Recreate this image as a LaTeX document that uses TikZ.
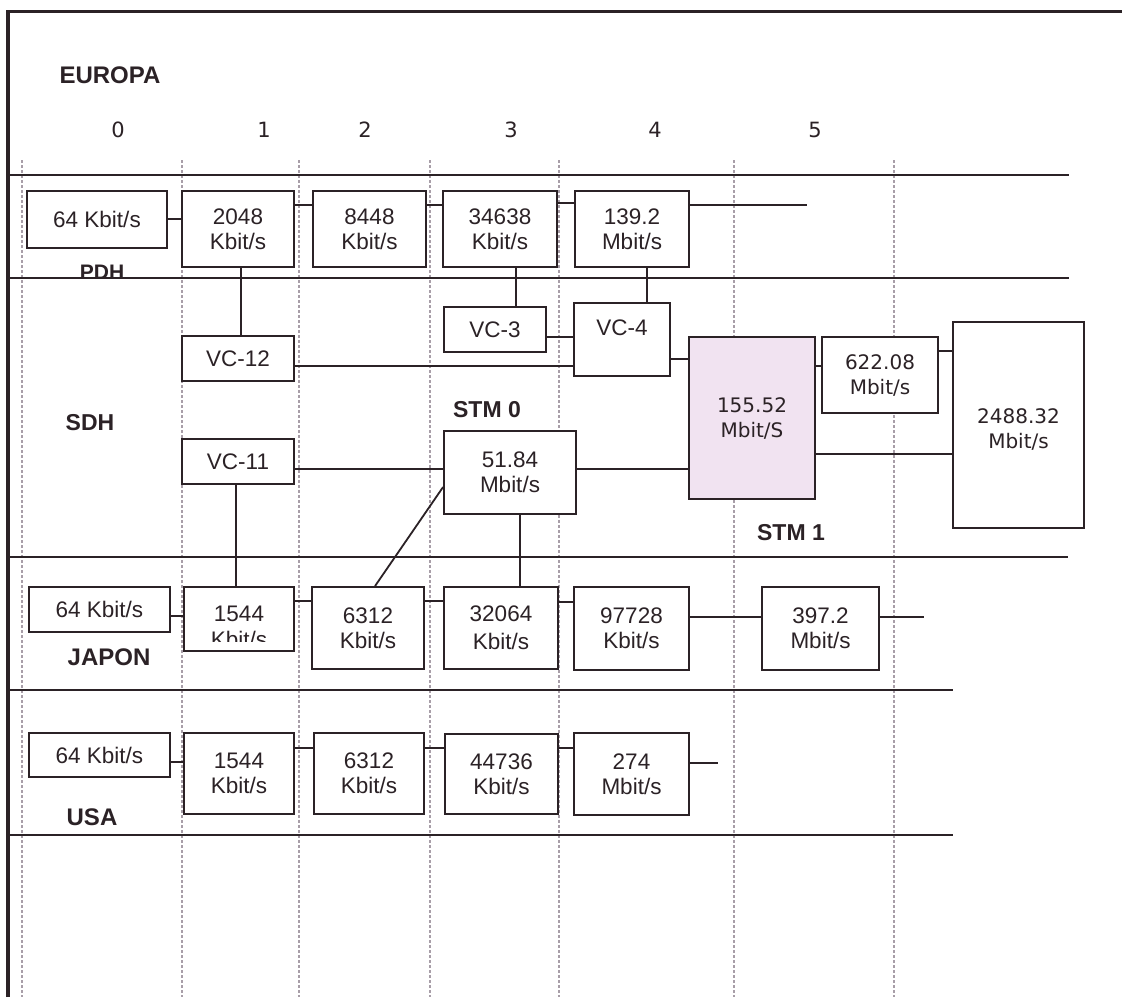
\documentclass[tikz,border=0pt]{standalone}
\usepackage{fontspec}
\setmainfont{Liberation Sans}
\newfontfamily\dvs{DejaVu Sans}
\definecolor{ink}{HTML}{2B2226}
\definecolor{gridc}{HTML}{A89EA8}
\definecolor{stmfill}{HTML}{F1E3F1}
\newcommand{\bx}[7][]{\node[box,#1,minimum width={#5-#3},minimum height={#6-#4}] (#2) at ({(#3+#5)/2},{(#4+#6)/2}) {#7};}
\tikzset{
 box/.style={draw=ink, fill=white, line width=1.8pt, inner sep=0pt, align=center, font=\fontsize{22.5}{25}\selectfont, text=ink},
 dvbox/.style={font=\dvs\fontsize{20}{25}\selectfont},
 ln/.style={draw=ink, line width=1.8pt},
 hl/.style={draw=ink, line width=2.4pt},
 frame/.style={draw=ink, line width=3.2pt},
 gridl/.style={draw=gridc, line width=1.1pt, dash pattern=on 3pt off 2pt},
 lbl/.style={font=\bfseries\fontsize{23}{28}\selectfont, text=ink, anchor=base, inner sep=0pt},
 num/.style={font=\dvs\fontsize{21}{25}\selectfont, text=ink, anchor=base, inner sep=0pt},
}
\begin{document}
\begin{tikzpicture}[x=1pt,y=-1pt]
\fill[white] (0,0) rectangle (1122,997);
\useasboundingbox (0,0) rectangle (1122,997);
% grid
\foreach \gx in {22,182,299,430,559,734,894}{\draw[gridl] (\gx,160) -- (\gx,997);}
% frame
\draw[frame] (8,997) -- (8,11.5) -- (1122,11.5);
% horizontal separators
\draw[hl] (8,175) -- (1069,175);
\draw[hl] (8,278) -- (1069,278);
\draw[hl] (8,557) -- (1068,557);
\draw[hl] (8,690) -- (953,690);
\draw[hl] (8,835) -- (953,835);
% headings
\node[lbl,font=\bfseries\fontsize{24}{28}\selectfont] (eu) at (110,83) {EUROPA};
\node[num] (n0) at (118,137) {0};
\node[num] (n1) at (264,137) {1};
\node[num] (n2) at (365,137) {2};
\node[num] (n3) at (511,137) {3};
\node[num] (n4) at (655,137) {4};
\node[num] (n5) at (815,137) {5};
% PDH row (Europe)
\bx{E0}{27}{191}{167}{248}{64 Kbit/s}
\bx{E1}{182}{191}{294}{267}{2048\\Kbit/s}
\bx{E2}{313}{191}{426}{267}{8448\\Kbit/s}
\bx{E3}{443}{191}{557}{267}{34638\\Kbit/s}
\bx{E4}{575}{191}{689}{267}{139.2\\Mbit/s}
\coordinate (E4end) at (807,205);
\node[lbl,font=\bfseries\fontsize{21}{25}\selectfont] (pdh) at (102,279) {PDH};
% SDH
\bx{VC12}{182}{336}{294}{381}{VC-12}
\bx{VC3}{444}{307}{546}{352}{VC-3}
\bx{VC4}{574}{303}{670}{376}{}
\node[text=ink,font=\fontsize{22.5}{25}\selectfont,inner sep=0pt] (VC4t) at (622,328) {VC-4};
\bx[fill=stmfill,dvbox]{STM1}{689}{337}{815}{499}{155.52\\Mbit/S}
\bx[dvbox]{S622}{822}{337}{938}{413}{622.08\\Mbit/s}
\bx[dvbox]{S2488}{953}{322}{1084}{528}{\\[-2pt]2488.32\\Mbit/s}
\bx{VC11}{182}{439}{294}{484}{VC-11}
\bx{STM0}{444}{431}{576}{514}{51.84\\Mbit/s}
\node[lbl] (sdh) at (90,430) {SDH};
\node[lbl] (stm0l) at (487,417) {STM 0};
\node[lbl] (stm1l) at (791,540) {STM 1};
% Japan
\bx{J0}{29}{587}{170}{632}{64 Kbit/s}
\bx{J1}{184}{587}{294}{651}{}
\begin{scope}
\clip (184,587) rectangle (294,641);
\node[text=ink,font=\fontsize{22.5}{26}\selectfont,inner sep=0pt,align=center,anchor=base] (J1t) at (239,647) {1544\\Kbit/s};
\end{scope}
\bx{J2}{312}{587}{424}{669}{6312\\Kbit/s}
\bx{J3}{444}{587}{558}{669}{32064\\[3pt]Kbit/s}
\bx{J4}{574}{587}{689}{670}{97728\\Kbit/s}
\bx{J5}{762}{587}{879}{670}{397.2\\Mbit/s}
\coordinate (J5end) at (924,617);
\node[lbl,font=\bfseries\fontsize{24}{28}\selectfont] (jap) at (109,665) {JAPON};
% USA
\bx{U0}{29}{733}{170}{777}{64 Kbit/s}
\bx{U1}{184}{733}{294}{814}{1544\\Kbit/s}
\bx{U2}{314}{733}{424}{814}{6312\\Kbit/s}
\bx{U3}{445}{734}{558}{814}{44736\\Kbit/s}
\bx{U4}{574}{733}{689}{815}{274\\Mbit/s}
\coordinate (U4end) at (718,763);
\node[lbl,font=\bfseries\fontsize{24}{28}\selectfont] (usa) at (92,825) {USA};
% connectors Europe
\draw[ln] (E0.east |- 0,219) -- (E1.west |- 0,219);
\draw[ln] (E1.east |- 0,205) -- (E2.west |- 0,205);
\draw[ln] (E2.east |- 0,205) -- (E3.west |- 0,205);
\draw[ln] (E3.east |- 0,203) -- (E4.west |- 0,203);
\draw[ln] (E4.east |- E4end) -- (E4end);
% Europe to SDH
\draw[ln] (E1.south -| 241,0) -- (VC12.north -| 241,0);
\draw[ln] (E3.south -| 516,0) -- (VC3.north -| 516,0);
\draw[ln] (E4.south -| 647,0) -- (VC4.north -| 647,0);
\draw[ln] (VC12.east |- 0,366) -- (VC4.west |- 0,366);
\draw[ln] (VC3.east |- 0,337) -- (VC4.west |- 0,337);
\draw[ln] (VC4.east |- 0,359) -- (STM1.west |- 0,359);
\draw[ln] (STM1.east |- 0,366) -- (S622.west |- 0,366);
\draw[ln] (S622.east |- 0,351) -- (S2488.west |- 0,351);
\draw[ln] (STM1.east |- 0,454) -- (S2488.west |- 0,454);
\draw[ln] (VC11.east |- 0,469) -- (STM0.west |- 0,469);
\draw[ln] (STM0.east |- 0,469) -- (STM1.west |- 0,469);
% SDH to Japan
\draw[ln] (VC11.south -| 236,0) -- (J1.north -| 236,0);
\draw[ln] (STM0.west |- 0,487) -- (J2.north -| 375,0);
\draw[ln] (STM0.south -| 520,0) -- (J3.north -| 520,0);
% Japan connectors
\draw[ln] (J0.east |- 0,616) -- (J1.west |- 0,616);
\draw[ln] (J1.east |- 0,601) -- (J2.west |- 0,601);
\draw[ln] (J2.east |- 0,601) -- (J3.west |- 0,601);
\draw[ln] (J3.east |- 0,602) -- (J4.west |- 0,602);
\draw[ln] (J4.east |- 0,617) -- (J5.west |- 0,617);
\draw[ln] (J5.east |- J5end) -- (J5end);
% USA connectors
\draw[ln] (U0.east |- 0,762) -- (U1.west |- 0,762);
\draw[ln] (U1.east |- 0,748) -- (U2.west |- 0,748);
\draw[ln] (U2.east |- 0,748) -- (U3.west |- 0,748);
\draw[ln] (U3.east |- 0,748) -- (U4.west |- 0,748);
\draw[ln] (U4.east |- U4end) -- (U4end);
\end{tikzpicture}
\end{document}
